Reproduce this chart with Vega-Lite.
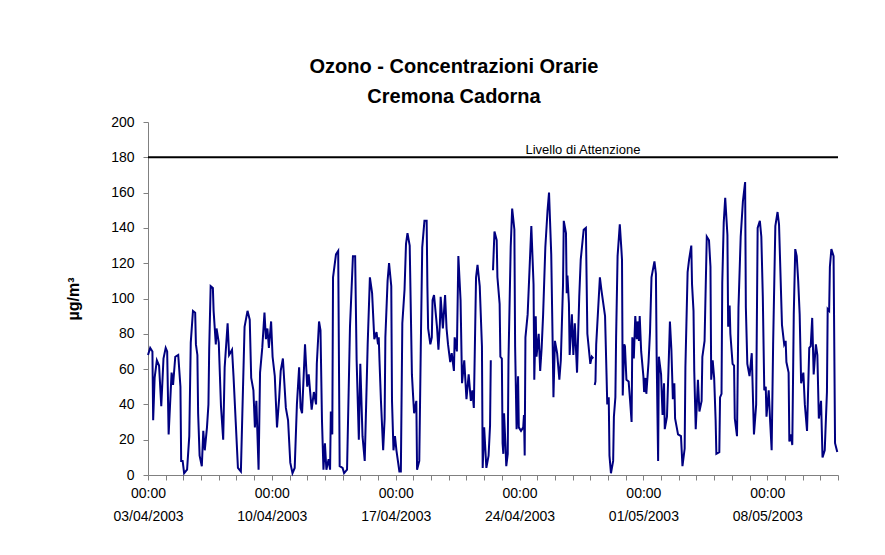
{
  "$schema": "https://vega.github.io/schema/vega-lite/v6.json",
  "width": 690,
  "height": 353,
  "autosize": {"type": "none"},
  "padding": {"left": 148, "top": 122, "right": 47, "bottom": 80},
  "background": "white",
  "title": {
    "text": ["Ozono - Concentrazioni Orarie", "Cremona Cadorna"],
    "font": "Liberation Sans",
    "fontSize": 20,
    "fontWeight": "bold",
    "color": "black",
    "anchor": "middle",
    "dx": -39,
    "offset": 8,
    "lineHeight": 30
  },
  "data": {
    "values": [
      {"t":"2003-04-03T00:00","v":68},{"t":"2003-04-03T03:00","v":72},{"t":"2003-04-03T06:00","v":70},{"t":"2003-04-03T07:00","v":31},{"t":"2003-04-03T09:00","v":55},{"t":"2003-04-03T12:00","v":65},{"t":"2003-04-03T15:00","v":62},{"t":"2003-04-03T18:00","v":39},{"t":"2003-04-03T21:00","v":66},
      {"t":"2003-04-04T00:00","v":72},{"t":"2003-04-04T02:00","v":70},{"t":"2003-04-04T04:00","v":23},{"t":"2003-04-04T08:00","v":58},{"t":"2003-04-04T10:00","v":51},{"t":"2003-04-04T13:00","v":67},{"t":"2003-04-04T17:00","v":68},{"t":"2003-04-04T20:00","v":50},{"t":"2003-04-04T21:00","v":8},{"t":"2003-04-04T23:00","v":8},
      {"t":"2003-04-05T01:00","v":1},{"t":"2003-04-05T05:00","v":3},{"t":"2003-04-05T08:00","v":22},{"t":"2003-04-05T10:00","v":75},{"t":"2003-04-05T13:00","v":93},{"t":"2003-04-05T16:00","v":92},{"t":"2003-04-05T17:00","v":74},{"t":"2003-04-05T19:00","v":68},{"t":"2003-04-05T20:00","v":35},{"t":"2003-04-05T22:00","v":11},
      {"t":"2003-04-06T01:00","v":5},{"t":"2003-04-06T03:00","v":25},{"t":"2003-04-06T05:00","v":14},{"t":"2003-04-06T08:00","v":27},{"t":"2003-04-06T10:00","v":40},{"t":"2003-04-06T11:00","v":71},{"t":"2003-04-06T13:00","v":107},{"t":"2003-04-06T16:00","v":106},{"t":"2003-04-06T17:00","v":93},{"t":"2003-04-06T20:00","v":74},{"t":"2003-04-06T21:00","v":83},
      {"t":"2003-04-07T00:00","v":75},{"t":"2003-04-07T03:00","v":39},{"t":"2003-04-07T06:00","v":20},{"t":"2003-04-07T08:00","v":61},{"t":"2003-04-07T12:00","v":86},{"t":"2003-04-07T14:00","v":68},{"t":"2003-04-07T18:00","v":71},{"t":"2003-04-07T20:00","v":56},{"t":"2003-04-07T23:00","v":30},
      {"t":"2003-04-08T02:00","v":4},{"t":"2003-04-08T06:00","v":2},{"t":"2003-04-08T08:00","v":35},{"t":"2003-04-08T11:00","v":84},{"t":"2003-04-08T15:00","v":93},{"t":"2003-04-08T18:00","v":88},{"t":"2003-04-08T20:00","v":55},{"t":"2003-04-08T23:00","v":48},
      {"t":"2003-04-09T01:00","v":27},{"t":"2003-04-09T03:00","v":42},{"t":"2003-04-09T06:00","v":3},{"t":"2003-04-09T08:00","v":58},{"t":"2003-04-09T11:00","v":72},{"t":"2003-04-09T14:00","v":92},{"t":"2003-04-09T16:00","v":77},{"t":"2003-04-09T18:00","v":83},{"t":"2003-04-09T20:00","v":72},{"t":"2003-04-09T23:00","v":87},
      {"t":"2003-04-10T01:00","v":67},{"t":"2003-04-10T04:00","v":56},{"t":"2003-04-10T05:00","v":46},{"t":"2003-04-10T07:00","v":27},{"t":"2003-04-10T10:00","v":44},{"t":"2003-04-10T12:00","v":59},{"t":"2003-04-10T15:00","v":66},{"t":"2003-04-10T17:00","v":52},{"t":"2003-04-10T19:00","v":38},{"t":"2003-04-10T22:00","v":31},
      {"t":"2003-04-11T01:00","v":7},{"t":"2003-04-11T04:00","v":1},{"t":"2003-04-11T07:00","v":4},{"t":"2003-04-11T10:00","v":40},{"t":"2003-04-11T13:00","v":61},{"t":"2003-04-11T15:00","v":38},{"t":"2003-04-11T17:00","v":35},{"t":"2003-04-11T21:00","v":74},
      {"t":"2003-04-12T00:00","v":50},{"t":"2003-04-12T02:00","v":57},{"t":"2003-04-12T06:00","v":37},{"t":"2003-04-12T09:00","v":47},{"t":"2003-04-12T12:00","v":40},{"t":"2003-04-12T13:00","v":63},{"t":"2003-04-12T16:00","v":87},{"t":"2003-04-12T18:00","v":82},{"t":"2003-04-12T20:00","v":31},{"t":"2003-04-12T22:00","v":3},
      {"t":"2003-04-13T00:00","v":18},{"t":"2003-04-13T02:00","v":3},{"t":"2003-04-13T05:00","v":9},{"t":"2003-04-13T07:00","v":3},{"t":"2003-04-13T08:00","v":36},{"t":"2003-04-13T10:00","v":23},{"t":"2003-04-13T11:00","v":112},{"t":"2003-04-13T15:00","v":125},{"t":"2003-04-13T18:00","v":127},{"t":"2003-04-13T20:00","v":5},
      {"t":"2003-04-14T00:00","v":4},{"t":"2003-04-14T02:00","v":1},{"t":"2003-04-14T06:00","v":3},{"t":"2003-04-14T10:00","v":84},{"t":"2003-04-14T14:00","v":124},{"t":"2003-04-14T17:00","v":124},{"t":"2003-04-14T19:00","v":65},{"t":"2003-04-14T22:00","v":20},
      {"t":"2003-04-15T00:00","v":63},{"t":"2003-04-15T03:00","v":22},{"t":"2003-04-15T06:00","v":8},{"t":"2003-04-15T10:00","v":74},{"t":"2003-04-15T13:00","v":112},{"t":"2003-04-15T16:00","v":103},{"t":"2003-04-15T19:00","v":77},{"t":"2003-04-15T22:00","v":81},
      {"t":"2003-04-16T00:00","v":74},{"t":"2003-04-16T01:00","v":78},{"t":"2003-04-16T02:00","v":65},{"t":"2003-04-16T04:00","v":42},{"t":"2003-04-16T07:00","v":14},{"t":"2003-04-16T09:00","v":32},{"t":"2003-04-16T10:00","v":78},{"t":"2003-04-16T13:00","v":110},{"t":"2003-04-16T15:00","v":120},{"t":"2003-04-16T18:00","v":107},{"t":"2003-04-16T19:00","v":42},{"t":"2003-04-16T21:00","v":14},{"t":"2003-04-16T23:00","v":22},
      {"t":"2003-04-17T01:00","v":14},{"t":"2003-04-17T05:00","v":2},{"t":"2003-04-17T07:00","v":2},{"t":"2003-04-17T09:00","v":86},{"t":"2003-04-17T12:00","v":105},{"t":"2003-04-17T14:00","v":131},{"t":"2003-04-17T16:00","v":137},{"t":"2003-04-17T19:00","v":130},{"t":"2003-04-17T22:00","v":57},
      {"t":"2003-04-18T00:00","v":42},{"t":"2003-04-18T01:00","v":35},{"t":"2003-04-18T04:00","v":42},{"t":"2003-04-18T05:00","v":3},{"t":"2003-04-18T08:00","v":8},{"t":"2003-04-18T10:00","v":71},{"t":"2003-04-18T12:00","v":129},{"t":"2003-04-18T15:00","v":144},{"t":"2003-04-18T18:00","v":144},{"t":"2003-04-18T19:00","v":107},{"t":"2003-04-18T20:00","v":83},{"t":"2003-04-18T23:00","v":74},
      {"t":"2003-04-19T01:00","v":78},{"t":"2003-04-19T02:00","v":99},{"t":"2003-04-19T04:00","v":102},{"t":"2003-04-19T08:00","v":84},{"t":"2003-04-19T10:00","v":71},{"t":"2003-04-19T12:00","v":86},{"t":"2003-04-19T13:00","v":101},{"t":"2003-04-19T16:00","v":83},{"t":"2003-04-19T19:00","v":102},{"t":"2003-04-19T21:00","v":83},{"t":"2003-04-19T23:00","v":74},
      {"t":"2003-04-20T02:00","v":64},{"t":"2003-04-20T04:00","v":69},{"t":"2003-04-20T07:00","v":59},{"t":"2003-04-20T08:00","v":78},{"t":"2003-04-20T11:00","v":70},{"t":"2003-04-20T13:00","v":124},{"t":"2003-04-20T16:00","v":99},{"t":"2003-04-20T18:00","v":52},{"t":"2003-04-20T21:00","v":65},
      {"t":"2003-04-21T00:00","v":43},{"t":"2003-04-21T03:00","v":57},{"t":"2003-04-21T06:00","v":42},{"t":"2003-04-21T08:00","v":48},{"t":"2003-04-21T10:00","v":38},{"t":"2003-04-21T13:00","v":112},{"t":"2003-04-21T15:00","v":119},{"t":"2003-04-21T18:00","v":107},{"t":"2003-04-21T21:00","v":73},{"t":"2003-04-21T22:00","v":4},
      {"t":"2003-04-22T00:00","v":27},{"t":"2003-04-22T03:00","v":4},{"t":"2003-04-22T06:00","v":11},{"t":"2003-04-22T08:00","v":28},{"t":"2003-04-22T09:00","v":65},{"t":"2003-04-22T10:00","v":null},{"t":"2003-04-22T12:00","v":116},{"t":"2003-04-22T14:00","v":138},{"t":"2003-04-22T17:00","v":133},{"t":"2003-04-22T18:00","v":112},{"t":"2003-04-22T21:00","v":97},{"t":"2003-04-22T22:00","v":67},
      {"t":"2003-04-23T00:00","v":66},{"t":"2003-04-23T01:00","v":18},{"t":"2003-04-23T02:00","v":12},{"t":"2003-04-23T03:00","v":35},{"t":"2003-04-23T05:00","v":16},{"t":"2003-04-23T06:00","v":5},{"t":"2003-04-23T08:00","v":12},{"t":"2003-04-23T09:00","v":65},{"t":"2003-04-23T12:00","v":129},{"t":"2003-04-23T14:00","v":151},{"t":"2003-04-23T17:00","v":139},{"t":"2003-04-23T18:00","v":73},{"t":"2003-04-23T20:00","v":26},{"t":"2003-04-23T22:00","v":56},{"t":"2003-04-23T23:00","v":27},
      {"t":"2003-04-24T02:00","v":25},{"t":"2003-04-24T05:00","v":27},{"t":"2003-04-24T06:00","v":34},{"t":"2003-04-24T07:00","v":11},{"t":"2003-04-24T08:00","v":78},{"t":"2003-04-24T11:00","v":91},{"t":"2003-04-24T13:00","v":111},{"t":"2003-04-24T16:00","v":141},{"t":"2003-04-24T19:00","v":108},{"t":"2003-04-24T20:00","v":54},{"t":"2003-04-24T22:00","v":90},{"t":"2003-04-24T23:00","v":67},
      {"t":"2003-04-25T02:00","v":80},{"t":"2003-04-25T04:00","v":59},{"t":"2003-04-25T06:00","v":72},{"t":"2003-04-25T08:00","v":91},{"t":"2003-04-25T11:00","v":129},{"t":"2003-04-25T14:00","v":150},{"t":"2003-04-25T16:00","v":160},{"t":"2003-04-25T19:00","v":125},{"t":"2003-04-25T21:00","v":73},{"t":"2003-04-25T22:00","v":44},
      {"t":"2003-04-26T00:00","v":76},{"t":"2003-04-26T03:00","v":69},{"t":"2003-04-26T06:00","v":54},{"t":"2003-04-26T08:00","v":65},{"t":"2003-04-26T11:00","v":108},{"t":"2003-04-26T12:00","v":144},{"t":"2003-04-26T15:00","v":137},{"t":"2003-04-26T16:00","v":103},{"t":"2003-04-26T17:00","v":113},{"t":"2003-04-26T19:00","v":97},{"t":"2003-04-26T20:00","v":68},{"t":"2003-04-26T23:00","v":91},
      {"t":"2003-04-27T01:00","v":68},{"t":"2003-04-27T03:00","v":86},{"t":"2003-04-27T06:00","v":58},{"t":"2003-04-27T09:00","v":101},{"t":"2003-04-27T11:00","v":122},{"t":"2003-04-27T15:00","v":139},{"t":"2003-04-27T18:00","v":140},{"t":"2003-04-27T20:00","v":80},
      {"t":"2003-04-28T00:00","v":63},{"t":"2003-04-28T02:00","v":67},{"t":"2003-04-28T04:00","v":66},{"t":"2003-04-28T05:00","v":null},{"t":"2003-04-28T06:00","v":51},{"t":"2003-04-28T07:00","v":53},{"t":"2003-04-28T08:00","v":74},{"t":"2003-04-28T13:00","v":112},{"t":"2003-04-28T15:00","v":105},{"t":"2003-04-28T20:00","v":90},{"t":"2003-04-28T22:00","v":57},{"t":"2003-04-28T23:00","v":40},
      {"t":"2003-04-29T01:00","v":44},{"t":"2003-04-29T02:00","v":11},{"t":"2003-04-29T04:00","v":1},{"t":"2003-04-29T07:00","v":8},{"t":"2003-04-29T08:00","v":33},{"t":"2003-04-29T10:00","v":44},{"t":"2003-04-29T11:00","v":78},{"t":"2003-04-29T13:00","v":124},{"t":"2003-04-29T16:00","v":142},{"t":"2003-04-29T18:00","v":129},{"t":"2003-04-29T19:00","v":122},{"t":"2003-04-29T20:00","v":45},{"t":"2003-04-29T22:00","v":74},{"t":"2003-04-29T23:00","v":73},
      {"t":"2003-04-30T01:00","v":54},{"t":"2003-04-30T04:00","v":53},{"t":"2003-04-30T06:00","v":42},{"t":"2003-04-30T08:00","v":30},{"t":"2003-04-30T09:00","v":78},{"t":"2003-04-30T11:00","v":66},{"t":"2003-04-30T13:00","v":90},{"t":"2003-04-30T15:00","v":77},{"t":"2003-04-30T16:00","v":87},{"t":"2003-04-30T18:00","v":76},{"t":"2003-04-30T19:00","v":90},{"t":"2003-04-30T21:00","v":70},
      {"t":"2003-05-01T00:00","v":56},{"t":"2003-05-01T01:00","v":47},{"t":"2003-05-01T03:00","v":55},{"t":"2003-05-01T04:00","v":46},{"t":"2003-05-01T07:00","v":64},{"t":"2003-05-01T09:00","v":81},{"t":"2003-05-01T11:00","v":112},{"t":"2003-05-01T15:00","v":121},{"t":"2003-05-01T17:00","v":114},{"t":"2003-05-01T18:00","v":67},{"t":"2003-05-01T20:00","v":8},{"t":"2003-05-01T21:00","v":67},
      {"t":"2003-05-02T00:00","v":57},{"t":"2003-05-02T01:00","v":45},{"t":"2003-05-02T02:00","v":34},{"t":"2003-05-02T04:00","v":52},{"t":"2003-05-02T05:00","v":26},{"t":"2003-05-02T08:00","v":33},{"t":"2003-05-02T10:00","v":59},{"t":"2003-05-02T12:00","v":87},{"t":"2003-05-02T14:00","v":71},{"t":"2003-05-02T16:00","v":43},{"t":"2003-05-02T18:00","v":52},{"t":"2003-05-02T19:00","v":32},{"t":"2003-05-02T23:00","v":23},
      {"t":"2003-05-03T03:00","v":22},{"t":"2003-05-03T05:00","v":5},{"t":"2003-05-03T08:00","v":15},{"t":"2003-05-03T09:00","v":61},{"t":"2003-05-03T12:00","v":115},{"t":"2003-05-03T14:00","v":122},{"t":"2003-05-03T17:00","v":130},{"t":"2003-05-03T18:00","v":108},{"t":"2003-05-03T20:00","v":93},{"t":"2003-05-03T21:00","v":59},{"t":"2003-05-03T23:00","v":26},
      {"t":"2003-05-04T02:00","v":54},{"t":"2003-05-04T04:00","v":36},{"t":"2003-05-04T07:00","v":42},{"t":"2003-05-04T08:00","v":67},{"t":"2003-05-04T11:00","v":76},{"t":"2003-05-04T12:00","v":96},{"t":"2003-05-04T14:00","v":135},{"t":"2003-05-04T17:00","v":133},{"t":"2003-05-04T19:00","v":118},{"t":"2003-05-04T20:00","v":54},{"t":"2003-05-04T22:00","v":65},
      {"t":"2003-05-05T00:00","v":55},{"t":"2003-05-05T02:00","v":31},{"t":"2003-05-05T03:00","v":12},{"t":"2003-05-05T07:00","v":13},{"t":"2003-05-05T08:00","v":44},{"t":"2003-05-05T10:00","v":46},{"t":"2003-05-05T11:00","v":109},{"t":"2003-05-05T13:00","v":143},{"t":"2003-05-05T15:00","v":157},{"t":"2003-05-05T18:00","v":136},{"t":"2003-05-05T19:00","v":84},{"t":"2003-05-05T21:00","v":96},{"t":"2003-05-05T22:00","v":80},
      {"t":"2003-05-06T01:00","v":63},{"t":"2003-05-06T03:00","v":62},{"t":"2003-05-06T04:00","v":32},{"t":"2003-05-06T07:00","v":22},{"t":"2003-05-06T09:00","v":95},{"t":"2003-05-06T12:00","v":135},{"t":"2003-05-06T15:00","v":155},{"t":"2003-05-06T18:00","v":166},{"t":"2003-05-06T19:00","v":95},{"t":"2003-05-06T21:00","v":63},
      {"t":"2003-05-07T00:00","v":56},{"t":"2003-05-07T03:00","v":69},{"t":"2003-05-07T06:00","v":23},{"t":"2003-05-07T09:00","v":40},{"t":"2003-05-07T11:00","v":140},{"t":"2003-05-07T14:00","v":144},{"t":"2003-05-07T16:00","v":135},{"t":"2003-05-07T18:00","v":101},{"t":"2003-05-07T20:00","v":48},{"t":"2003-05-07T22:00","v":50},{"t":"2003-05-07T23:00","v":33},
      {"t":"2003-05-08T02:00","v":48},{"t":"2003-05-08T04:00","v":30},{"t":"2003-05-08T06:00","v":14},{"t":"2003-05-08T08:00","v":74},{"t":"2003-05-08T11:00","v":141},{"t":"2003-05-08T14:00","v":149},{"t":"2003-05-08T16:00","v":142},{"t":"2003-05-08T20:00","v":85},{"t":"2003-05-08T23:00","v":74},
      {"t":"2003-05-09T01:00","v":76},{"t":"2003-05-09T02:00","v":64},{"t":"2003-05-09T05:00","v":58},{"t":"2003-05-09T06:00","v":19},{"t":"2003-05-09T08:00","v":23},{"t":"2003-05-09T10:00","v":17},{"t":"2003-05-09T12:00","v":91},{"t":"2003-05-09T14:00","v":128},{"t":"2003-05-09T16:00","v":124},{"t":"2003-05-09T18:00","v":110},{"t":"2003-05-09T20:00","v":91},{"t":"2003-05-09T22:00","v":52},
      {"t":"2003-05-10T01:00","v":58},{"t":"2003-05-10T03:00","v":40},{"t":"2003-05-10T06:00","v":25},{"t":"2003-05-10T09:00","v":72},{"t":"2003-05-10T11:00","v":73},{"t":"2003-05-10T13:00","v":89},{"t":"2003-05-10T15:00","v":57},{"t":"2003-05-10T18:00","v":74},{"t":"2003-05-10T20:00","v":68},{"t":"2003-05-10T22:00","v":32},
      {"t":"2003-05-11T01:00","v":42},{"t":"2003-05-11T03:00","v":10},{"t":"2003-05-11T06:00","v":14},{"t":"2003-05-11T09:00","v":47},{"t":"2003-05-11T10:00","v":94},{"t":"2003-05-11T12:00","v":93},{"t":"2003-05-11T13:00","v":118},{"t":"2003-05-11T15:00","v":128},{"t":"2003-05-11T18:00","v":124},{"t":"2003-05-11T20:00","v":18},{"t":"2003-05-11T23:00","v":13}
    ]
  },
  "layer": [
    {
      "mark": {"type": "line", "color": "#000080", "strokeWidth": 2, "strokeJoin": "miter"},
      "encoding": {
        "x": {
          "field": "t",
          "type": "temporal",
          "scale": {"domain": [{"year": 2003, "month": 4, "date": 3}, {"year": 2003, "month": 5, "date": 12}], "nice": false},
          "axis": {
            "title": null,
            "tickCount": {"interval": "day", "step": 1},
            "labelExpr": "(round((datum.value - datetime(2003,3,3)) / 86400000) % 7 == 0) ? [timeFormat(datum.value, '%H:%M'), timeFormat(datum.value, '%d/%m/%Y')] : ''",
            "labelOverlap": false,
            "labelBound": false,
            "labelFlush": false,
            "labelFontSize": 14,
            "labelLineHeight": 23,
            "labelPadding": 6,
            "labelBaseline": "top",
            "tickSize": 5
          }
        },
        "y": {
          "field": "v",
          "type": "quantitative",
          "scale": {"domain": [0, 200], "nice": false},
          "axis": {
            "title": "µg/m³",
            "values": [0, 20, 40, 60, 80, 100, 120, 140, 160, 180, 200],
            "labelOverlap": false,
            "labelFontSize": 14,
            "labelPadding": 9,
            "tickSize": 5,
            "titleFontSize": 16,
            "titleFontWeight": "bold",
            "titleColor": "black",
            "titlePadding": 29
          }
        }
      }
    },
    {
      "data": {"values": [{}]},
      "mark": {"type": "rule", "color": "black", "strokeWidth": 2},
      "encoding": {
        "y": {
          "datum": 180,
          "type": "quantitative",
          "axis": {
            "title": "µg/m³",
            "values": [0, 20, 40, 60, 80, 100, 120, 140, 160, 180, 200],
            "labelOverlap": false,
            "labelFontSize": 14,
            "labelPadding": 9,
            "tickSize": 5,
            "titleFontSize": 16,
            "titleFontWeight": "bold",
            "titleColor": "black",
            "titlePadding": 29
          }
        }
      }
    },
    {
      "data": {"values": [{}]},
      "mark": {"type": "text", "text": "Livello di Attenzione", "font": "Liberation Sans", "fontSize": 13, "color": "black", "align": "center", "baseline": "alphabetic", "dy": -3},
      "encoding": {
        "x": {"datum": {"year": 2003, "month": 4, "date": 27, "hours": 14}, "type": "temporal"},
        "y": {
          "datum": 180,
          "type": "quantitative",
          "axis": {
            "title": "µg/m³",
            "values": [0, 20, 40, 60, 80, 100, 120, 140, 160, 180, 200],
            "labelOverlap": false,
            "labelFontSize": 14,
            "labelPadding": 9,
            "tickSize": 5,
            "titleFontSize": 16,
            "titleFontWeight": "bold",
            "titleColor": "black",
            "titlePadding": 29
          }
        }
      }
    }
  ],
  "config": {
    "view": {"stroke": null},
    "axis": {
      "labelFont": "Liberation Sans",
      "titleFont": "Liberation Sans",
      "labelColor": "black",
      "domainColor": "#808080",
      "tickColor": "#808080",
      "grid": false
    }
  }
}
